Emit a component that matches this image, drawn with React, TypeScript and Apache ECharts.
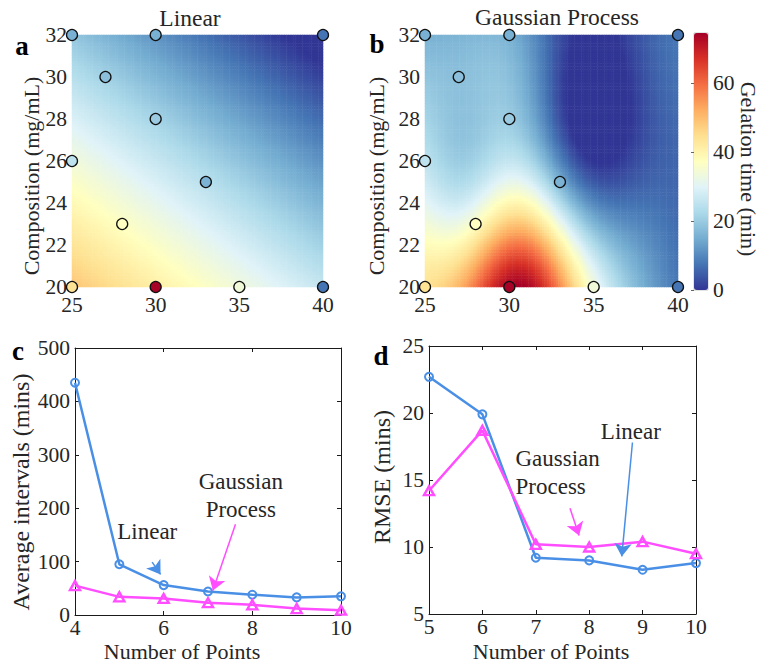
import React, { useEffect, useRef } from "react";
import * as echarts from "echarts";

// Measured gelation times (min) at the sampled compositions
const pointX = [25, 30, 35, 40, 28, 25, 33, 30, 27, 25, 30, 40];
const pointY = [20, 20, 20, 20, 23, 26, 25, 28, 30, 32, 32, 32];
const gelationTime = [44, 74, 34, 7.5, 37, 25, 16, 20, 18, 15.5, 15.5, 7.5];

// Map axes (composition ranges) and colour bar
const mapXTicks = [25, 30, 35, 40];
const mapYTicks = [20, 22, 24, 26, 28, 30, 32];
const colorbarTicks = [0, 20, 40, 60];
const colorbarMax = 74.5;

// Panel c: average intervals vs number of points
const countsC = [4, 5, 6, 7, 8, 9, 10];
const intervalLinear = [435, 95, 56, 44, 38, 33, 35];
const intervalGP = [55, 34, 31, 23, 19, 12, 9];
const countTicksC = [4, 6, 8, 10];
const intervalTicks = [0, 100, 200, 300, 400, 500];

// Panel d: RMSE vs number of points
const countsD = [5, 6, 7, 8, 9, 10];
const rmseLinear = [22.7, 19.9, 9.2, 9.0, 8.3, 8.8];
const rmseGP = [14.2, 18.7, 10.2, 10.0, 10.4, 9.5];
const countTicksD = [5, 6, 7, 8, 9, 10];
const rmseTicks = [5, 10, 15, 20, 25];

const FONT = "'Liberation Serif', 'Times New Roman', serif";
const INK = "#262626";
const BLUE = "#4A8FE6";
const MAGENTA = "#FF4DFF";
const RDYLBU = [
  "#313695", "#4575b4", "#74add1", "#abd9e9", "#e0f3f8", "#ffffbf",
  "#fee090", "#fdae61", "#f46d43", "#d73027", "#a50026",
];

// Gauss-Jordan solve of A x = b
function solve(A: number[][], b: number[]): number[] {
  const n = b.length;
  const M = A.map((row, i) => [...row, b[i]]);
  for (let c = 0; c < n; c++) {
    let p = c;
    for (let r = c + 1; r < n; r++) if (Math.abs(M[r][c]) > Math.abs(M[p][c])) p = r;
    [M[c], M[p]] = [M[p], M[c]];
    for (let r = 0; r < n; r++) {
      if (r === c) continue;
      const f = M[r][c] / M[c][c];
      for (let k = c; k <= n; k++) M[r][k] -= f * M[c][k];
    }
  }
  return M.map((row, i) => row[n] / row[i]);
}

// Least-squares plane through the measurements
function linearModel() {
  const A = [[0, 0, 0], [0, 0, 0], [0, 0, 0]];
  const r = [0, 0, 0];
  pointX.forEach((x, i) => {
    const f = [1, x, pointY[i]];
    for (let j = 0; j < 3; j++) {
      r[j] += f[j] * gelationTime[i];
      for (let k = 0; k < 3; k++) A[j][k] += f[j] * f[k];
    }
  });
  const [a, b, c] = solve(A, r);
  return (x: number, y: number) => a + b * x + c * y;
}

// Zero-mean Gaussian-process regression with a squared-exponential kernel
function gpModel(lx: number, ly: number, noise: number) {
  const k = (x1: number, y1: number, x2: number, y2: number) =>
    Math.exp(-0.5 * (((x1 - x2) / lx) ** 2 + ((y1 - y2) / ly) ** 2));
  const K = pointX.map((xi, i) =>
    pointX.map((xj, j) => k(xi, pointY[i], xj, pointY[j]) + (i === j ? noise : 0))
  );
  const alpha = solve(K, gelationTime);
  return (x: number, y: number) =>
    pointX.reduce((s, xi, i) => s + alpha[i] * k(x, y, xi, pointY[i]), 0);
}

const NX = 110;
const NY = 88;
const xMin = mapXTicks[0], xMax = mapXTicks[mapXTicks.length - 1];
const yMin = mapYTicks[0], yMax = mapYTicks[mapYTicks.length - 1];
const cellX = Array.from({ length: NX }, (_, i) => xMin + ((i + 0.5) * (xMax - xMin)) / NX);
const cellY = Array.from({ length: NY }, (_, j) => yMin + ((j + 0.5) * (yMax - yMin)) / NY);

function fieldData(f: (x: number, y: number) => number) {
  const out: number[][] = [];
  for (let i = 0; i < NX; i++)
    for (let j = 0; j < NY; j++) {
      const v = Math.min(colorbarMax, Math.max(0, f(cellX[i], cellY[j])));
      out.push([i, j, v]);
    }
  return out;
}

const span = (t: number[]) => ({ min: t[0], max: t[t.length - 1], interval: t[1] - t[0] });

const tickLabel = (margin: number) => ({ fontFamily: FONT, fontSize: 21.5, color: INK, margin });

function mapAxis(gridIndex: number, ticks: number[], margin: number) {
  return {
    type: "value", gridIndex, ...span(ticks),
    axisLine: { show: false }, axisTick: { show: false }, splitLine: { show: false },
    axisLabel: tickLabel(margin),
  };
}

function hiddenCat(gridIndex: number, n: number) {
  return {
    type: "category", gridIndex, show: false,
    data: Array.from({ length: n }, (_, i) => String(i)),
  };
}

function frameAxes(gridIndex: number, ticks: number[], dir: "x" | "y") {
  const common = {
    type: "value", gridIndex, ...span(ticks),
    splitLine: { show: false },
    axisLine: { show: true, onZero: false, lineStyle: { color: "#1a1a1a", width: 1 } },
    axisTick: { show: true, inside: true, length: 4, lineStyle: { color: "#1a1a1a", width: 1 } },
  };
  return [
    { ...common, position: dir === "x" ? "bottom" : "left", axisLabel: tickLabel(dir === "x" ? 2 : 5) },
    { ...common, position: dir === "x" ? "top" : "right", axisLabel: { show: false } },
  ];
}

function arrow(color: string, from: number[], to: number[]) {
  return {
    silent: true, symbol: ["none", "arrow"], symbolSize: 13,
    label: { show: false },
    lineStyle: { color, width: 1.5, type: "solid" },
    emphasis: { disabled: true },
    data: [[{ coord: from }, { coord: to }]],
  };
}

function note(text: string, at: number[], align = "center") {
  return {
    silent: true, symbol: "circle", symbolSize: 0,
    label: {
      show: true, position: "inside", formatter: text, align,
      fontFamily: FONT, fontSize: 23, color: INK, lineHeight: 28,
    },
    data: [{ coord: at }],
  };
}

function lineSeries(axis: number, xs: number[], ys: number[], color: string, tri: boolean) {
  return {
    type: "line", xAxisIndex: axis, yAxisIndex: axis, clip: false, z: 4,
    data: xs.map((x, i) => [x, ys[i]]),
    symbol: tri ? "triangle" : "circle",
    symbolSize: tri ? [10, 9] : 8,
    showAllSymbol: true,
    lineStyle: { color, width: 2.5 },
    itemStyle: { color: "rgba(0,0,0,0)", borderColor: color, borderWidth: tri ? 2.4 : 2 },
    emphasis: { disabled: true },
  };
}

function text(t: string, x: number, y: number, o: { rot?: number; size?: number; bold?: boolean } = {}) {
  return {
    type: "text", x, y, rotation: o.rot || 0, silent: true,
    style: {
      text: t, fontFamily: FONT, fontSize: o.size || 22,
      fontWeight: o.bold ? "bold" : "normal", fill: o.bold ? "#000" : INK,
      align: "center", verticalAlign: "middle",
    },
  };
}

function buildOption() {
  const boxA = { left: 72, top: 35, width: 251, height: 252 };
  const boxB = { left: 425, top: 35, width: 253, height: 252 };
  const boxBar = { left: 694, top: 33, width: 14, height: 257 };
  const boxC = { left: 75, top: 348, width: 266, height: 267 };
  const boxD = { left: 429, top: 346, width: 267, height: 268 };

  const [cx0, cx1] = frameAxes(5, countTicksC, "x");
  const [dx0, dx1] = frameAxes(7, countTicksD, "x");
  const [cy0, cy1] = frameAxes(5, intervalTicks, "y");
  const [dy0, dy1] = frameAxes(7, rmseTicks, "y");

  const measured = pointX.map((x, i) => [x, pointY[i], gelationTime[i]]);
  const PI2 = Math.PI / 2;

  return {
    animation: false,
    grid: [
      { ...boxA }, { ...boxA }, { ...boxB }, { ...boxB },
      { ...boxBar, show: true, borderColor: "#c8c8c8", borderWidth: 1 },
      { ...boxC }, { ...boxC }, { ...boxD }, { ...boxD },
    ].map((g) => ({ containLabel: false, ...g })),
    xAxis: [
      hiddenCat(0, NX), mapAxis(1, mapXTicks, 7), hiddenCat(2, NX), mapAxis(3, mapXTicks, 7),
      { type: "value", gridIndex: 4, show: false, min: 0, max: 1 },
      cx0, cx1, dx0, dx1,
    ].map((a, i) => (i >= 5 ? { ...a, gridIndex: i < 7 ? 5 : 7 } : a)),
    yAxis: [
      hiddenCat(0, NY), mapAxis(1, mapYTicks, 5), hiddenCat(2, NY), mapAxis(3, mapYTicks, 5),
      {
        type: "value", gridIndex: 4, position: "right", min: 0, max: colorbarMax, z: 10,
        axisLine: { show: false }, splitLine: { show: false },
        axisTick: { show: true, inside: true, length: 3, customValues: colorbarTicks, lineStyle: { color: "#666" } },
        axisLabel: { ...tickLabel(5), customValues: colorbarTicks },
      },
      cy0, cy1, dy0, dy1,
    ],
    visualMap: {
      type: "continuous", min: 0, max: colorbarMax, dimension: 2,
      seriesIndex: [0, 1, 2, 3], calculable: false, hoverLink: false,
      orient: "vertical", left: boxBar.left, top: boxBar.top,
      itemWidth: boxBar.width, itemHeight: boxBar.height, padding: 0,
      inRange: { color: RDYLBU },
    },
    series: [
      {
        type: "heatmap", xAxisIndex: 0, yAxisIndex: 0, data: fieldData(linearModel()),
        progressive: 0, emphasis: { disabled: true }, z: 1,
      },
      {
        type: "heatmap", xAxisIndex: 2, yAxisIndex: 2, data: fieldData(gpModel(3.0, 5.0, 1e-6)),
        progressive: 0, emphasis: { disabled: true }, z: 1,
      },
      ...[1, 3].map((ax) => ({
        type: "scatter", xAxisIndex: ax, yAxisIndex: ax, data: measured, symbol: "circle",
        symbolSize: 11, clip: false, z: 5,
        itemStyle: { borderColor: "#111", borderWidth: 1.3, opacity: 1 },
        emphasis: { disabled: true },
      })),
      {
        ...lineSeries(5, countsC, intervalLinear, BLUE, false),
        markLine: arrow(BLUE, [5.74, 99], [5.93, 76]),
        markPoint: note("Linear", [5.63, 156]),
      },
      {
        ...lineSeries(5, countsC, intervalGP, MAGENTA, true),
        markLine: arrow(MAGENTA, [7.62, 170], [7.11, 46]),
        markPoint: note("Gaussian\nProcess", [7.74, 223]),
      },
      {
        ...lineSeries(7, countsD, rmseLinear, BLUE, false),
        markLine: arrow(BLUE, [8.81, 17.8], [8.61, 9.3]),
        markPoint: note("Linear", [8.78, 18.6]),
      },
      {
        ...lineSeries(7, countsD, rmseGP, MAGENTA, true),
        markLine: arrow(MAGENTA, [7.64, 12.9], [7.81, 10.85]),
        markPoint: note("Gaussian\nProcess", [6.62, 15.56], "left"),
      },
    ],
    graphic: [
      text("a", 22, 46, { size: 27, bold: true }),
      text("b", 377, 44, { size: 27, bold: true }),
      text("c", 18, 351, { size: 27, bold: true }),
      text("d", 381, 356, { size: 27, bold: true }),
      text("Linear", 190, 18, { size: 23.5 }),
      text("Gaussian Process", 557, 17, { size: 23.5 }),
      text("Composition (mg/mL)", 31, 176, { rot: PI2 }),
      text("Composition (mg/mL)", 376, 176, { rot: PI2 }),
      text("Gelation time (min)", 748, 169, { rot: -PI2 }),
      text("Average intervals (mins)", 21, 492, { rot: PI2, size: 24 }),
      text("RMSE (mins)", 382, 477, { rot: PI2, size: 24 }),
      text("Number of Points", 182, 651, { size: 22 }),
      text("Number of Points", 551, 651, { size: 22 }),
    ],
  };
}

export default function App() {
  const ref = useRef<HTMLDivElement>(null);
  useEffect(() => {
    document.body.style.margin = "0";
    const chart = echarts.init(ref.current!, null, { renderer: "svg" });
    chart.setOption(buildOption() as any);
    return () => chart.dispose();
  }, []);
  return <div ref={ref} style={{ width: 760, height: 662 }} />;
}
